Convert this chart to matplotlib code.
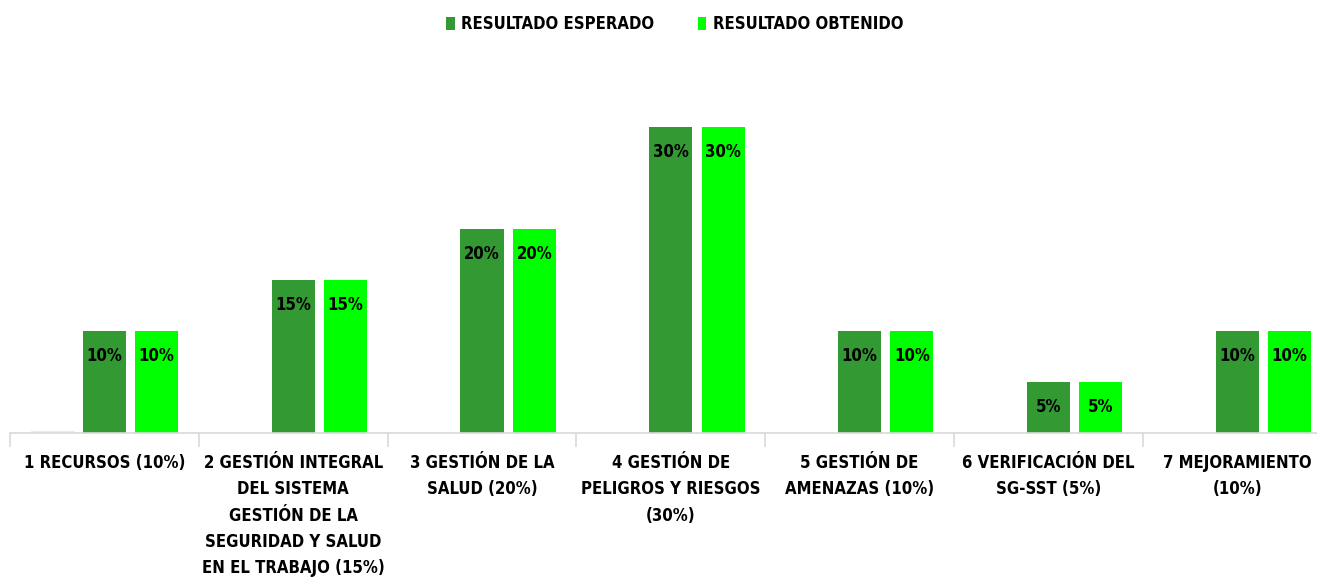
import matplotlib
matplotlib.use('Agg')
from matplotlib import pyplot as plt
from matplotlib import font_manager as fm
import numpy as np

categories = ['1 RECURSOS (10%)',
              '2 GESTIÓN INTEGRAL\nDEL SISTEMA\nGESTIÓN DE LA\nSEGURIDAD Y SALUD\nEN EL TRABAJO (15%)',
              '3 GESTIÓN DE LA\nSALUD (20%)',
              '4 GESTIÓN DE\nPELIGROS Y RIESGOS\n(30%)',
              '5 GESTIÓN DE\nAMENAZAS (10%)',
              '6 VERIFICACIÓN DEL\nSG-SST (5%)',
              '7 MEJORAMIENTO\n(10%)']
ghost = [0.2, 0, 0, 0, 0, 0, 0]
esperado = [10, 15, 20, 30, 10, 5, 10]
obtenido = [10, 15, 20, 30, 10, 5, 10]

names = {f.name for f in fm.fontManager.ttflist}
fam = [n for n in ['Liberation Sans Narrow', 'DejaVu Sans Condensed'] if n in names] or ['DejaVu Sans']
plt.rcParams['font.family'] = fam + ['DejaVu Sans']
plt.rcParams['font.weight'] = 'bold'
plt.rcParams['font.stretch'] = 'condensed'

W, H = 1317, 580
fig = plt.figure(figsize=(W / 100, H / 100), dpi=100)
ax = fig.add_axes([10 / W, (H - 433) / H, (W - 10) / W, 357 / H])

x = np.arange(len(categories))
w = 0.228
off = 0.277
ax.bar(x - off, ghost, w, color='#f2f2f2', edgecolor='#e6e6e6', linewidth=0.5)
b1 = ax.bar(x, esperado, w, color='#339933', label='RESULTADO ESPERADO')
b2 = ax.bar(x + off, obtenido, w, color='#00ff00', label='RESULTADO OBTENIDO')

fs = 14 if fam[0] != 'DejaVu Sans' else 12
for bars, vals in [(b1, esperado), (b2, obtenido)]:
    for b, v in zip(bars, vals):
        ax.text(b.get_x() + b.get_width() / 2, v - 2.45, f'{v}%', ha='center', va='center',
                fontsize=fs, fontweight='bold', color='black')

ax.set_xticks(np.arange(len(categories) + 1) - 0.5)
ax.set_xticklabels([])
ax.set_xlim(-0.5, -0.5 + (W - 10) / 188.8)
ax.set_ylim(0, 35)
ax.set_yticks([])
for s in ['top', 'right', 'left']:
    ax.spines[s].set_visible(False)
ax.spines['bottom'].set_color('#d9d9d9')
ax.spines['bottom'].set_linewidth(1.2)
ax.tick_params(axis='x', length=10, color='#d9d9d9', width=1.2)

for xi, lab in zip(x, categories):
    ax.annotate(lab, xy=(xi, 0), xycoords=('data', 'axes fraction'), xytext=(0, -15),
                textcoords='offset points', ha='center', va='top', fontsize=fs,
                fontweight='bold', linespacing=1.6, annotation_clip=False)

fig.legend(handles=[b1, b2], loc='center', bbox_to_anchor=(0.5125, 1 - 24 / H), ncol=2,
           frameon=False, fontsize=fs, handlelength=0.5, handleheight=0.8,
           columnspacing=2.6, handletextpad=0.4)

fig.savefig('out.png', dpi=100)
